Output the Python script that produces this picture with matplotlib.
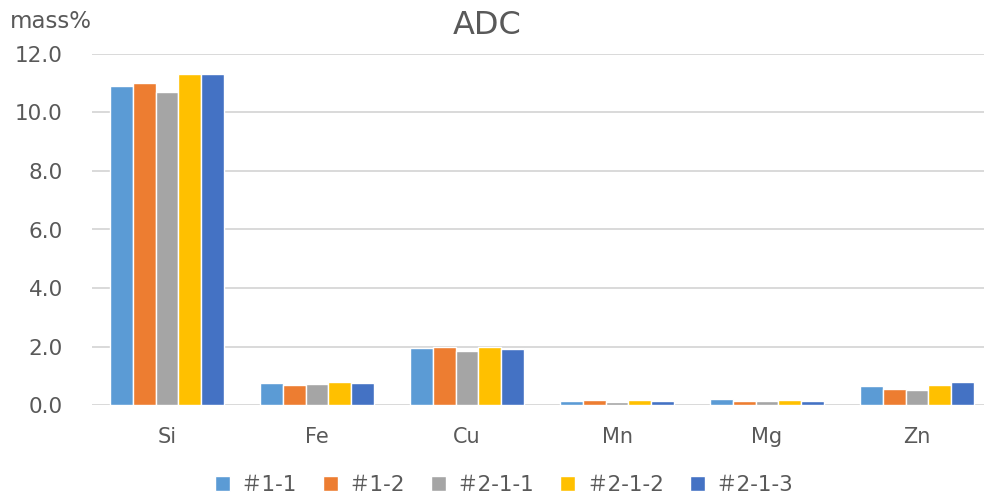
import matplotlib.pyplot as plt
import numpy as np

plt.rcParams['font.family'] = ['DejaVu Sans', 'Noto Sans CJK JP']

elements = ['Si', 'Fe', 'Cu', 'Mn', 'Mg', 'Zn']
series_names = ['＃1-1', '＃1-2', '＃2-1-1', '＃2-1-2', '＃2-1-3']
s1_1 = [10.9, 0.74, 1.95, 0.15, 0.19, 0.66]
s1_2 = [11.0, 0.68, 1.97, 0.18, 0.12, 0.55]
s2_1_1 = [10.7, 0.71, 1.85, 0.10, 0.13, 0.51]
s2_1_2 = [11.3, 0.79, 1.97, 0.16, 0.16, 0.67]
s2_1_3 = [11.3, 0.75, 1.90, 0.15, 0.15, 0.79]
colors = ['#5B9BD5', '#ED7D31', '#A5A5A5', '#FFC000', '#4472C4']
yticks = [0, 2, 4, 6, 8, 10, 12]

series = [s1_1, s1_2, s2_1_1, s2_1_2, s2_1_3]
text_col = '#595959'

fig = plt.figure(figsize=(9.84, 4.98), dpi=100)
ax = fig.add_axes([92 / 984, 93 / 498, 892 / 984, 351 / 498])

x = np.arange(len(elements))
w = 0.153
for i, (vals, name) in enumerate(zip(series, series_names)):
    ax.bar(x + (i - 2) * w, vals, width=w, color=colors[i], edgecolor='white',
           linewidth=1.0, label=name, zorder=3)

ax.set_xlim(-0.5, -0.5 + 892 / 150)
ax.set_ylim(0, 12)
ax.set_yticks(yticks)
ax.set_yticklabels([f'{v:.1f}' for v in yticks], fontsize=15.5, color=text_col)
ax.set_xticks(x)
ax.set_xticklabels(elements, fontsize=15, color=text_col)
ax.tick_params(axis='both', length=0)
ax.tick_params(axis='y', pad=21)
ax.tick_params(axis='x', pad=16)
ax.grid(axis='y', color='#D9D9D9', linewidth=1.4, zorder=0)
for sp in ax.spines.values():
    sp.set_visible(False)

fig.text(10 / 984, 1 - 22 / 498, 'mass%', fontsize=16.5, color=text_col, va='center', ha='left')
fig.text(487 / 984, 1 - 25 / 498, 'ADC', fontsize=23, color=text_col, va='center', ha='center')

leg = fig.legend(loc='center', bbox_to_anchor=(504 / 984, 1 - 485 / 498), ncol=5, frameon=False,
                 fontsize=15.5, handlelength=0.7, handleheight=0.7, handletextpad=0.5,
                 columnspacing=1.2)
for t in leg.get_texts():
    t.set_color(text_col)

plt.savefig('out.png', dpi=100, facecolor='white')
plt.close()
